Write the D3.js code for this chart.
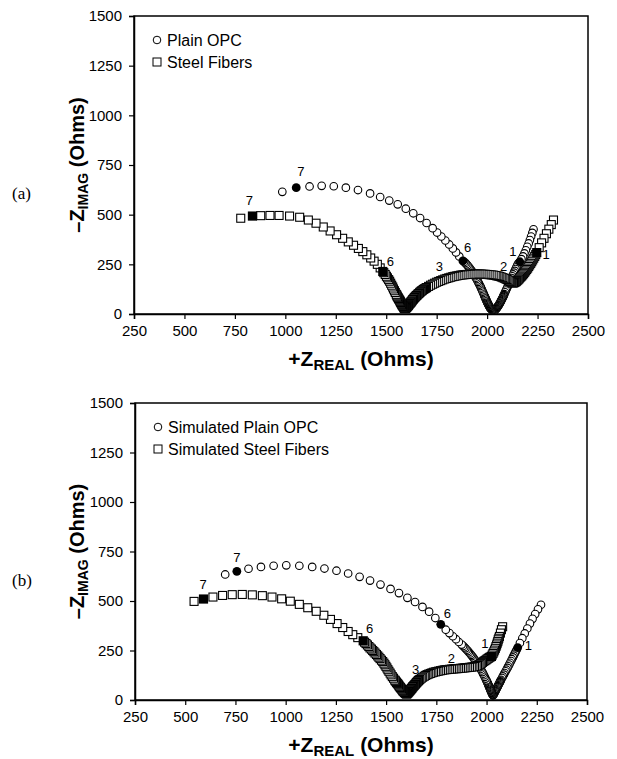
<!DOCTYPE html>
<html><head><meta charset="utf-8">
<script src="https://cdn.jsdelivr.net/npm/d3@7"></script>
<style>body{margin:0;background:#fff}</style>
</head><body>
<svg id="c" width="617" height="759"></svg>
<script>
const xTicks=[250,500,750,1000,1250,1500,1750,2000,2250,2500];
const yTicks=[0,250,500,750,1000,1250,1500];

// Panel (a): Plain OPC (circles)
const opcA=[[2230,426],[2224,408],[2218,390],[2212,372],[2206,355],[2199,338],[2192,321],[2185,305],[2178,290],[2170,276],
[2158,258],[2153,252],[2149,244],[2145,235],[2141,226],[2137,217],[2133,208],[2129,199],[2125,190],[2121,181],[2117,172],[2113,163],[2109,154],[2105,145],[2101,136],[2097,127],[2093,118],[2089,109],[2085,100],[2083,95],[2081,91],[2079,86],[2077,82],[2075,78],[2073,74],[2071,70],[2069,66],[2067,62],[2065,58],[2063,54],[2061,51],[2059,47],[2057,44],[2055,41],[2053,38],[2051,35],[2049,32],[2047,29],[2045,27],[2043,25],[2041,23],[2039,21],[2037,20],[2035,19],[2033,19],
[2030,19],[2028,20],[2026,21],[2024,22],[2022,23],[2020,25],[2018,27],[2017,29],[2015,31],[2014,34],[2012,36],[2011,39],[2009,42],[2008,45],[2006,48],[2005,51],[2003,54],[2002,57],[2000,60],[1999,64],[1997,67],[1996,71],[1994,74],[1993,78],[1991,81],[1990,85],[1988,88],[1987,92],[1984,99],[1981,106],[1978,113],[1975,120],[1972,127],[1969,134],[1966,141],[1962,148],[1959,155],[1955,162],[1952,169],[1948,176],[1944,183],[1940,190],[1936,197],[1932,204],[1928,211],[1923,218],[1918,225],[1913,232],[1908,238],[1903,245],[1897,251],[1892,257],[1886,262],
[1862,290],[1846,310],[1830,330],[1812,350],[1793,370],[1773,390],[1752,410],[1730,432],[1700,458],[1668,483],[1634,507],[1597,530],[1557,552],[1515,571],[1470,589],[1420,607],[1360,624],[1300,636],[1240,643],[1180,645],[1120,642],[985,615]];
const opcAFilled=[[2162,263],[1880,267],[1054,636]];

// Panel (a): Steel Fibers (squares)
const steelA=[[2329,473],[2318,450],[2306,427],[2294,404],[2282,381],[2270,358],[2258,334],
[2241,299],[2236,290],[2231,281],[2226,272],[2221,263],[2216,255],[2211,247],[2206,239],[2201,231],[2196,224],[2191,217],[2186,210],[2181,203],[2176,197],[2171,191],[2166,186],[2161,181],[2157,176],[2153,172],[2149,168],[2145,165],[2142,162],[2138,160],[2135,158],[2131,157],[2128,156],
[2124,158],[2120,160],[2115,163],[2110,167],[2104,171],[2098,174],[2092,177],[2085,180],[2078,183],[2070,186],[2063,189],[2055,191],[2048,192],[2040,194],[2030,196],[2020,197],[2010,198],[2000,199],[1990,200],[1980,200],[1970,201],[1960,201],[1950,201],[1940,201],[1930,201],[1920,200],[1910,200],[1900,199],[1890,198],[1880,197],[1870,196],[1860,194],[1850,192],[1840,190],[1830,188],[1820,185],[1810,182],[1800,179],[1790,176],[1780,172],[1770,168],[1760,164],[1750,160],[1740,155],[1730,150],[1720,145],[1710,139],[1700,133],[1695,130],[1690,127],[1685,124],[1680,120],[1676,117],[1672,114],[1668,110],[1665,107],[1661,103],[1657,100],[1654,96],[1650,93],[1647,90],[1644,87],[1641,83],[1638,80],[1635,76],[1632,73],[1630,70],[1627,66],[1624,62],[1622,59],[1619,56],[1617,53],[1614,50],[1612,47],[1610,44],[1608,42],[1606,39],[1604,37],[1602,35],[1600,33],[1598,31],[1597,30],[1595,28],[1594,27],
[1592,28],[1591,29],[1589,30],[1588,32],[1586,35],[1584,38],[1582,41],[1580,44],[1578,47],[1576,51],[1574,54],[1572,58],[1570,62],[1568,66],[1566,70],[1563,74],[1561,78],[1559,82],[1556,86],[1554,90],[1552,95],[1550,99],[1545,108],[1541,117],[1536,126],[1532,136],[1527,145],[1522,155],[1517,165],[1512,173],[1506,182],[1501,190],[1495,199],[1488,208],
[1470,232],[1456,250],[1440,266],[1423,282],[1404,298],[1384,314],[1362,330],[1338,346],[1312,363],[1284,381],[1254,399],[1222,418],[1188,438],[1152,457],[1114,473],[1071,487],[1021,493],[969,496],[924,496],[878,495],[779,482]];
const steelAFilled=[[2246,309],[1483,214],[837,493]];

// Panel (b): Simulated Plain OPC (circles)
const opcB=[[2271,481],[2256,458],[2242,434],[2229,410],[2216,386],[2203,361],[2190,336],[2178,312],[2166,288],
[2150,254],[2145,244],[2140,234],[2135,224],[2131,215],[2126,206],[2122,197],[2117,188],[2113,179],[2108,170],[2104,162],[2099,153],[2095,145],[2090,136],[2086,128],[2081,119],[2077,111],[2072,102],[2070,98],[2068,94],[2066,90],[2064,86],[2062,82],[2060,78],[2058,74],[2056,70],[2054,66],[2052,62],[2050,58],[2048,54],[2046,50],[2044,46],[2042,42],[2040,38],[2038,34],[2036,31],[2034,27],[2033,24],
[2032,25],[2031,26],[2030,28],[2029,30],[2027,33],[2026,36],[2024,40],[2023,43],[2021,47],[2020,50],[2018,54],[2017,58],[2015,62],[2014,66],[2012,70],[2010,74],[2008,79],[2007,83],[2005,87],[2003,91],[2001,96],[1999,100],[1995,108],[1991,117],[1987,125],[1983,133],[1979,141],[1975,149],[1970,157],[1966,165],[1961,172],[1957,180],[1952,187],[1948,194],[1943,201],[1938,208],[1933,215],[1928,222],[1923,228],[1918,235],[1912,241],[1907,248],[1901,254],[1895,261],[1889,267],[1883,273],[1876,280],[1862,293],[1848,307],[1832,322],[1815,338],[1797,355],
[1745,414],[1714,446],[1681,470],[1644,495],[1606,516],[1564,540],[1522,561],[1472,583],[1420,603],[1368,622],[1311,639],[1253,653],[1193,664],[1132,672],[1068,678],[1003,680],[940,678],[877,672],[815,663],[699,634]];
const opcBFilled=[[2155,265],[1772,382],[757,650]];

// Panel (b): Simulated Steel Fibers (squares)
const steelB=[[2080,370],[2074,355],[2069,338],[2064,321],[2061,312],[2058,304],[2056,295],[2053,287],[2050,278],[2047,270],[2044,261],[2040,252],[2036,243],[2032,235],[2028,227],
[2018,217],[2013,214],[2008,210],[2003,207],[1998,203],[1992,199],[1986,195],[1980,190],[1974,185],[1968,181],[1962,177],[1955,174],[1948,171],[1940,169],[1932,167],[1924,166],[1915,165],[1906,164],[1897,163],[1888,162],[1879,161],[1870,160],[1861,159],[1852,158],[1843,158],[1834,157],[1825,156],[1816,155],[1807,154],[1798,153],[1789,152],[1780,150],[1771,148],[1762,146],[1753,144],[1745,142],[1736,140],[1728,137],[1720,134],[1712,131],[1704,128],[1697,124],[1690,120],[1682,115],[1675,110],[1668,104],[1664,101],[1661,98],[1658,95],[1655,92],[1652,88],[1649,85],[1646,81],[1643,78],[1640,74],[1637,71],[1634,68],[1632,65],[1629,61],[1627,58],[1624,55],[1622,52],[1619,49],[1617,46],[1614,43],[1612,40],[1609,37],[1607,35],[1604,32],[1602,30],
[1599,32],[1597,34],[1594,36],[1592,38],[1589,41],[1586,44],[1583,47],[1581,51],[1577,55],[1574,59],[1571,63],[1568,67],[1565,71],[1562,76],[1559,80],[1556,84],[1552,88],[1549,93],[1546,97],[1543,101],[1537,110],[1531,118],[1525,127],[1520,136],[1514,145],[1509,153],[1504,162],[1499,170],[1494,178],[1489,186],[1483,194],[1477,201],[1470,209],[1464,216],[1458,223],[1452,230],[1445,237],[1439,244],[1433,250],[1427,257],[1420,263],[1414,270],[1407,278],[1400,285],[1393,292],
[1359,315],[1334,330],[1311,346],[1284,366],[1256,386],[1223,407],[1190,428],[1152,448],[1110,466],[1068,483],[1023,499],[980,511],[932,520],[884,527],[834,531],[784,533],[734,532],[686,528],[638,520],[544,498]];
const steelBFilled=[[2024,220],[1386,299],[591,510]];

const labelsA=[["7",1077,716],["7",822,574],["6",1903,334],["6",1520,263],["3",1763,238],["2",2082,238],["1",2128,314],["1",2292,302]];
const labelsB=[["7",757,722],["7",589,586],["6",1805,439],["6",1418,359],["3",1647,152],["2",1825,212],["1",2208,273],["1",1991,288]];

const legendA=["Plain OPC","Steel Fibers"];
const legendB=["Simulated Plain OPC","Simulated Steel Fibers"];

const panels=[
 {left:134,right:588,top:16,bottom:314,opc:opcA,opcF:opcAFilled,steel:steelA,steelF:steelAFilled,labels:labelsA,legend:legendA,tag:"(a)",tagY:199},
 {left:135,right:587,top:403,bottom:700,opc:opcB,opcF:opcBFilled,steel:steelB,steelF:steelBFilled,labels:labelsB,legend:legendB,tag:"(b)",tagY:586}
];

const svg=d3.select("#c");
const SANS="'Liberation Sans', Arial, Helvetica, sans-serif";

panels.forEach(p=>{
  const x=d3.scaleLinear().domain([250,2500]).range([p.left,p.right]);
  const y=d3.scaleLinear().domain([0,1500]).range([p.bottom,p.top]);
  const g=svg.append("g");

  g.append("rect").attr("x",p.left).attr("y",p.top).attr("width",p.right-p.left).attr("height",p.bottom-p.top)
   .attr("fill","none").attr("stroke","#000").attr("stroke-width",1.5);

  const xa=g.append("g").attr("transform",`translate(0,${p.bottom})`)
    .call(d3.axisBottom(x).tickValues(xTicks).tickSize(5).tickPadding(6).tickFormat(d3.format("d")));
  const ya=g.append("g").attr("transform",`translate(${p.left},0)`)
    .call(d3.axisLeft(y).tickValues(yTicks).tickSize(5).tickPadding(7).tickFormat(d3.format("d")));
  [xa,ya].forEach(a=>{
    a.select(".domain").attr("stroke","#000").attr("stroke-width",1.5);
    a.selectAll(".tick line").attr("stroke","#000").attr("stroke-width",1.2);
    a.selectAll("text").attr("font-family",SANS).attr("font-size",15).attr("fill","#000");
  });

  g.append("g").selectAll("circle").data(p.opc).join("circle")
   .attr("cx",d=>x(d[0])).attr("cy",d=>y(d[1])).attr("r",3.8)
   .attr("fill","#fff").attr("stroke","#000").attr("stroke-width",1.1);
  const s=8;
  g.append("g").selectAll("rect").data(p.steel).join("rect")
   .attr("x",d=>x(d[0])-s/2).attr("y",d=>y(d[1])-s/2).attr("width",s).attr("height",s)
   .attr("fill","#fff").attr("stroke","#000").attr("stroke-width",1.1);
  g.append("g").selectAll("circle").data(p.opcF).join("circle")
   .attr("cx",d=>x(d[0])).attr("cy",d=>y(d[1])).attr("r",4.4).attr("fill","#000");
  g.append("g").selectAll("rect").data(p.steelF).join("rect")
   .attr("x",d=>x(d[0])-4.6).attr("y",d=>y(d[1])-4.6).attr("width",9.2).attr("height",9.2).attr("fill","#000");

  g.append("g").selectAll("text").data(p.labels).join("text")
   .attr("x",d=>x(d[1])).attr("y",d=>y(d[2])).attr("dy","0.35em")
   .attr("text-anchor","middle").attr("font-family",SANS).attr("font-size",13).attr("fill","#000")
   .text(d=>d[0]);

  const lx=p.left+23, ly=p.top+24;
  g.append("circle").attr("cx",lx).attr("cy",ly).attr("r",3.8).attr("fill","#fff").attr("stroke","#000");
  g.append("rect").attr("x",lx-4).attr("y",ly+22-4).attr("width",8).attr("height",8).attr("fill","#fff").attr("stroke","#000");
  p.legend.forEach((t,i)=>{
    g.append("text").attr("x",lx+10).attr("y",ly+i*22+6).attr("font-family",SANS).attr("font-size",16).attr("fill","#000").text(t);
  });

  const xt=g.append("text").attr("x",(p.left+p.right)/2).attr("y",p.bottom+52).attr("text-anchor","middle")
    .attr("font-family",SANS).attr("font-weight","bold").attr("font-size",21).attr("fill","#000");
  xt.append("tspan").text("+Z");
  xt.append("tspan").attr("font-size",15).attr("dy",4).text("REAL");
  xt.append("tspan").attr("dy",-4).text(" (Ohms)");

  const cy=(p.top+p.bottom)/2;
  const yt=g.append("text").attr("transform",`translate(84,${cy}) rotate(-90)`).attr("text-anchor","middle")
    .attr("font-family",SANS).attr("font-weight","bold").attr("font-size",20).attr("fill","#000");
  yt.append("tspan").text("\u2013Z");
  yt.append("tspan").attr("font-size",14).attr("dy",4).text("IMAG");
  yt.append("tspan").attr("dy",-4).text(" (Ohms)");

  g.append("text").attr("x",12).attr("y",p.tagY).attr("font-family","'Liberation Serif', 'Times New Roman', serif")
   .attr("font-size",17).attr("fill","#000").text(p.tag);
});
</script>
</body></html>
